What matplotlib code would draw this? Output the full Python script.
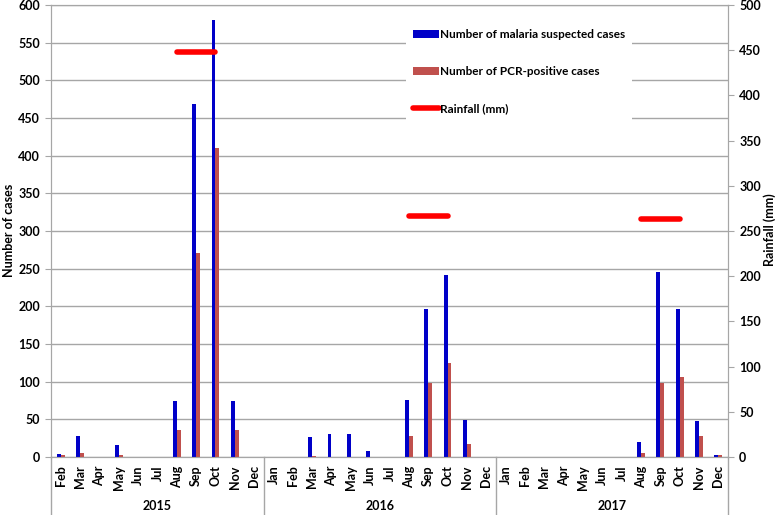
import matplotlib.pyplot as plt
import numpy as np
from matplotlib.patches import Patch
from matplotlib.lines import Line2D

plt.rcParams['font.family'] = ['Lato', 'DejaVu Sans']
plt.rcParams['font.weight'] = 'bold'

# months per year (2015 starts in Feb)
years = ['2015', '2016', '2017']
months_2015 = ['Feb', 'Mar', 'Apr', 'May', 'Jun', 'Jul', 'Aug', 'Sep', 'Oct', 'Nov', 'Dec']
months_full = ['Jan', 'Feb', 'Mar', 'Apr', 'May', 'Jun', 'Jul', 'Aug', 'Sep', 'Oct', 'Nov', 'Dec']
month_labels = months_2015 + months_full + months_full

suspected = [4, 28, 0, 16, 0, 0, 75, 468, 580, 74, 0,
             0, 0, 26, 30, 31, 8, 0, 76, 196, 242, 49, 0,
             0, 0, 0, 0, 0, 0, 0, 20, 245, 196, 48, 2]
pcr_pos = [2, 5, 0, 2, 0, 0, 36, 271, 410, 36, 0,
           0, 0, 1, 0, 0, 0, 0, 28, 98, 125, 17, 0,
           0, 0, 0, 0, 0, 0, 0, 5, 98, 106, 28, 2]

# rainfall (mm) drawn across Aug-Oct of each year
rain_2015 = [448, 448, 448]
rain_2016 = [267, 267, 267]
rain_2017 = [263, 263, 263]
rain_idx = [[6, 7, 8], [18, 19, 20], [30, 31, 32]]

blue = '#0000C8'
red_bar = '#C0504D'
grid_c = '#A6A6A6'

fig = plt.figure(figsize=(7.78, 5.15), dpi=100)
ax = fig.add_axes([51/778, 58/515, 677/778, 452/515])
ax2 = ax.twinx()

x = np.arange(len(month_labels))
w = 0.2
ax.bar(x - w/2, suspected, w, color=blue, zorder=3)
ax.bar(x + w/2, pcr_pos, w, color=red_bar, zorder=3)

for idx, vals in zip(rain_idx, [rain_2015, rain_2016, rain_2017]):
    ax2.plot(idx, vals, color='#FF0000', lw=4, solid_capstyle='round', zorder=4)

ax.set_xlim(-0.5, len(month_labels) - 0.5)
ax.set_ylim(0, 600)
ax.set_yticks(range(0, 601, 50))
ax2.set_ylim(0, 500)
ax2.set_yticks(range(0, 501, 50))

ax.yaxis.grid(True, color=grid_c, lw=1)
ax.set_axisbelow(True)

ax.set_xticks(x)
ax.set_xticklabels(month_labels, rotation=90, fontsize=9, fontweight='bold')
ax.tick_params(axis='x', length=0, pad=6)
ax.tick_params(axis='y', labelsize=9, length=4, color=grid_c, pad=4)
ax2.tick_params(axis='y', labelsize=9, length=4, color=grid_c, pad=4)

for a in (ax, ax2):
    for s in a.spines.values():
        s.set_color(grid_c)

# axis titles placed like the original
fig.text(9/778, 1 - 230/515, 'Number of cases', rotation=90, ha='center', va='center',
         fontsize=9, fontweight='bold')
fig.text(770/778, 1 - 230/515, 'Rainfall (mm)', rotation=90, ha='center', va='center',
         fontsize=9, fontweight='bold')

# year level of the category axis
bounds = [0, 11, 23, 35]
for b in bounds:
    ax.plot([b - 0.5, b - 0.5], [0, -0.13], transform=ax.get_xaxis_transform(),
            color=grid_c, lw=1, clip_on=False)
for i, yr in enumerate(years):
    mid = (bounds[i] + bounds[i + 1] - 1) / 2
    ax.text(mid, -0.108, yr, transform=ax.get_xaxis_transform(),
            ha='center', va='center', fontsize=9, fontweight='bold')

handles = [Patch(facecolor=blue, edgecolor='none'),
           Patch(facecolor=red_bar, edgecolor='none'),
           Line2D([0], [0], color='#FF0000', lw=4, solid_capstyle='round')]
labels = ['Number of malaria suspected cases',
          'Number of PCR-positive cases',
          'Rainfall (mm)']
leg = ax2.legend(handles, labels, loc='upper left', bbox_to_anchor=(0.515, 0.975),
                 frameon=True, facecolor='white', edgecolor='none', framealpha=1,
                 fancybox=False, fontsize=8.5, labelspacing=2.2, handlelength=2.2,
                 handleheight=0.6, handletextpad=0.1, borderpad=0.6)
for t in leg.get_texts():
    t.set_fontweight('bold')

fig.savefig('out.png', dpi=100)
